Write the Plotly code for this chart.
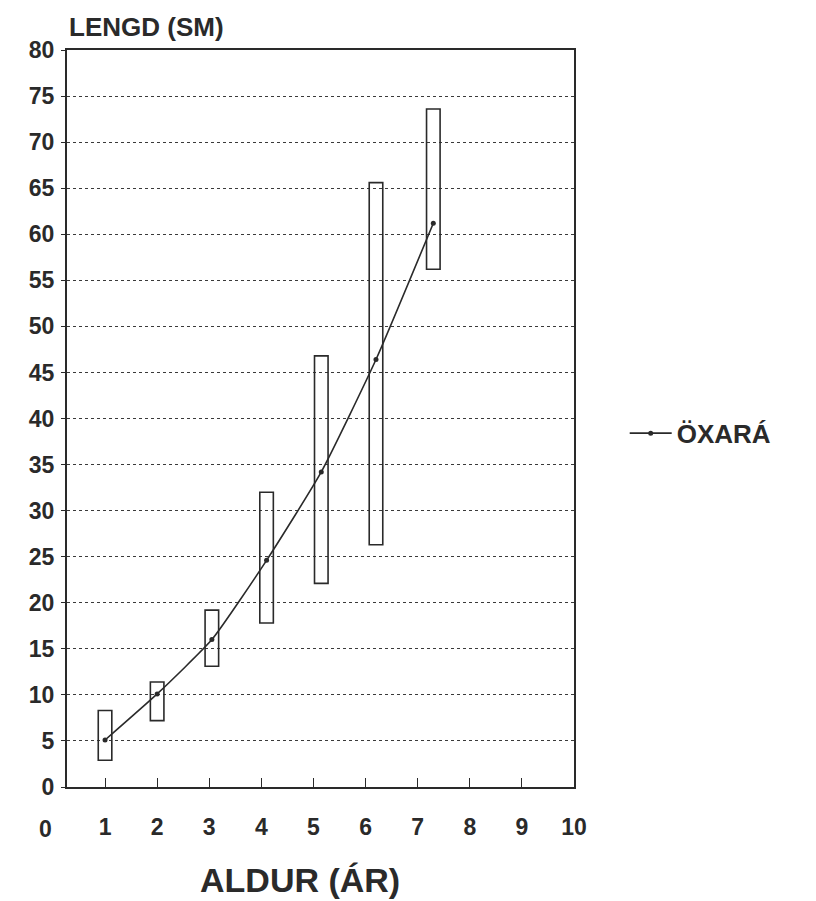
import plotly.graph_objects as go

# Data
ages = [1.0, 2.0, 3.05, 4.1, 5.15, 6.2, 7.3]
mean_len = [5.1, 10.1, 16.0, 24.6, 34.2, 46.4, 61.2]
min_len = [2.9, 7.2, 13.1, 17.8, 22.1, 26.3, 56.2]
max_len = [8.3, 11.4, 19.2, 32.0, 46.8, 65.6, 73.6]
series_name = "ÖXARÁ"
x_ticks = [1, 2, 3, 4, 5, 6, 7, 8, 9, 10]
y_ticks = list(range(0, 85, 5))

FONT = "Liberation Sans, Arial, sans-serif"
INK = "#2a2a2a"
TICK = dict(size=23, family=FONT, weight="bold", color=INK)

fig = go.Figure()

fig.add_trace(go.Bar(
    x=ages,
    y=[hi - lo for hi, lo in zip(max_len, min_len)],
    base=min_len,
    width=0.26,
    marker=dict(color="rgba(255,255,255,0)", line=dict(color=INK, width=1.6)),
    showlegend=False,
    hoverinfo="skip",
))

fig.add_trace(go.Scatter(
    x=ages, y=mean_len, mode="lines+markers", name=series_name,
    line=dict(color=INK, width=1.6, shape="spline", smoothing=0.5),
    marker=dict(color=INK, size=5),
))

fig.update_layout(
    width=816, height=901,
    margin=dict(l=67, r=242, t=50, b=114),
    paper_bgcolor="white", plot_bgcolor="white",
    font=dict(family=FONT, color=INK),
    showlegend=True,
    legend=dict(
        x=1.10, y=0.48, xanchor="left", yanchor="middle",
        font=dict(size=26, family=FONT, weight="bold", color=INK),
        itemwidth=42, bgcolor="rgba(0,0,0,0)",
    ),
    xaxis=dict(
        range=[0.27, 10], tickvals=x_ticks, ticktext=[str(v) for v in x_ticks],
        ticks="inside", ticklen=9, tickwidth=1.2, tickcolor=INK,
        showgrid=False, zeroline=False,
        showline=True, linecolor=INK, linewidth=2, mirror=True,
        tickfont=TICK,
        ticklabelstandoff=18,
    ),
    yaxis=dict(
        range=[0, 80], tickvals=y_ticks,
        ticks="outside", ticklen=4, tickwidth=1.2, tickcolor=INK,
        showgrid=True, gridcolor="#3a3a3a", gridwidth=1, griddash="dot",
        zeroline=False,
        showline=True, linecolor=INK, linewidth=2, mirror=True,
        tickfont=TICK,
        ticklabelstandoff=2,
    ),
    annotations=[
        dict(text="LENGD (SM)", xref="paper", yref="paper", x=0.0, y=1.0,
             xanchor="left", yanchor="bottom", yshift=6, showarrow=False,
             font=dict(size=26, family=FONT, weight="bold", color=INK)),
        dict(text="0", xref="paper", yref="paper", x=-0.043, y=0,
             xanchor="center", yanchor="top", yshift=-27, showarrow=False,
             font=TICK),
        dict(text="ALDUR (ÁR)", xref="paper", yref="paper", x=0.46, y=0,
             xanchor="center", yanchor="top", yshift=-72, showarrow=False,
             font=dict(size=34, family=FONT, weight="bold", color=INK)),
    ],
)

fig.write_html("out.html")
